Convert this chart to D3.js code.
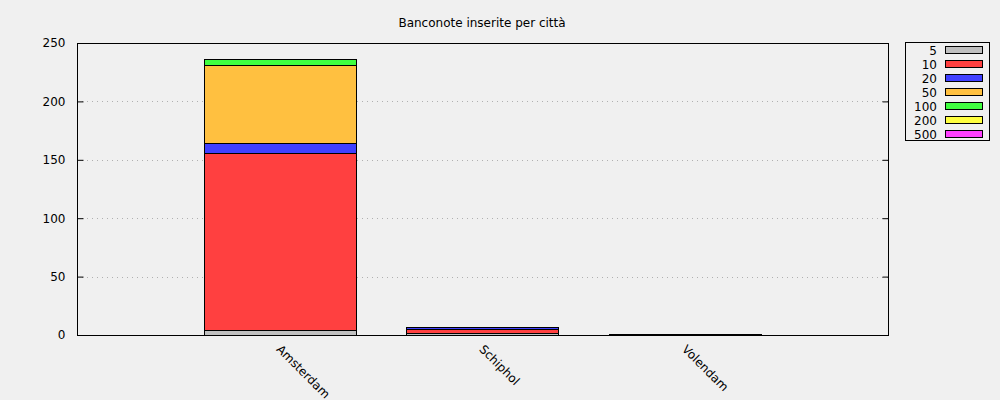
<!DOCTYPE html>
<html><head><meta charset="utf-8">
<script src="https://cdn.jsdelivr.net/npm/d3@7"></script>
<style>body{margin:0;background:#f0f0f0}svg{display:block;font-family:"DejaVu Sans",sans-serif}</style>
</head><body><svg id="c" width="1000" height="400"></svg>
<script>
const cities = ["Amsterdam", "Schiphol", "Volendam"];
const denominations = ["5", "10", "20", "50", "100", "200", "500"];
const colors = ["#c0c0c0", "#ff4040", "#4040ff", "#ffc040", "#40ff40", "#ffff40", "#ff40ff"];
const v5   = [4, 2, 1];
const v10  = [152, 3, 0];
const v20  = [8, 2, 0];
const v50  = [67, 0, 0];
const v100 = [5, 0, 0];
const v200 = [0, 0, 0];
const v500 = [0, 0, 0];
const yTicks = [0, 50, 100, 150, 200, 250];
const title = "Banconote inserite per città";

const series = [v5, v10, v20, v50, v100, v200, v500];
const table = cities.map((c, i) => {
  const o = {city: c, idx: i};
  denominations.forEach((d, j) => o[d] = series[j][i]);
  return o;
});
const stack = d3.stack().keys(denominations)(table);

const svg = d3.select("#c");
const L = 77, R = 888, T = 43, B = 335;
const x = d3.scaleLinear().domain([-1, 3]).range([L, R]);
const y = d3.scaleLinear().domain([0, 250]).range([B, T]);
const bw = (x(1) - x(0)) * 0.75;

svg.append("text").attr("x", 482).attr("y", 27).attr("text-anchor", "middle")
  .attr("font-size", 12).attr("fill", "#000").text(title);

// grid
svg.append("g").selectAll("line").data(yTicks.filter(t => t > 0 && t < 250)).join("line")
  .attr("x1", L).attr("x2", R).attr("y1", d => Math.round(y(d)) + 0.5).attr("y2", d => Math.round(y(d)) + 0.5)
  .attr("stroke", "#b0b0b0").attr("stroke-dasharray", "1,4");

// bars
stack.forEach((s, j) => {
  svg.append("g").selectAll("rect").data(s).join("rect")
    .attr("x", d => Math.round(x(d.data.idx) - bw / 2) + 0.5)
    .attr("width", Math.round(bw))
    .attr("y", d => Math.round(y(d[1])) + 0.5)
    .attr("height", d => Math.round(y(d[0])) - Math.round(y(d[1])))
    .attr("fill", colors[j])
    .attr("stroke", d => (d[1] - d[0]) > 0 ? "#000" : colors[j])
    .attr("stroke-opacity", d => (d[1] - d[0]) > 0 ? 1 : 0.5)
    .attr("stroke-width", 1);
});

// border
svg.append("rect").attr("x", L + 0.5).attr("y", T + 0.5).attr("width", R - L).attr("height", B - T)
  .attr("fill", "none").attr("stroke", "#000");

// y axis (left, ticks inward) and mirror ticks
const yAxis = d3.axisLeft(y).tickValues(yTicks).tickSize(-6).tickPadding(12).tickFormat(d3.format("d"));
const ga = svg.append("g").attr("transform", `translate(${L + 0.5},0)`).call(yAxis);
ga.select(".domain").remove();
ga.selectAll("text").attr("font-size", 12).attr("font-family", "DejaVu Sans").attr("fill", "#000");
ga.selectAll("line").attr("stroke", "#000");
const gr = svg.append("g").attr("transform", `translate(${R + 0.5},0)`)
  .call(d3.axisRight(y).tickValues(yTicks).tickSize(-6).tickFormat(""));
gr.select(".domain").remove();
gr.selectAll("line").attr("stroke", "#000");

// x labels
svg.append("g").selectAll("text").data(table).join("text")
  .attr("transform", d => `translate(${x(d.idx) + 2},${B + 9}) rotate(45)`)
  .attr("font-size", 12).attr("fill", "#000").attr("dy", "0.7em")
  .text(d => d.city);

// legend
const lg = svg.append("g");
lg.append("rect").attr("x", 905.5).attr("y", 42.5).attr("width", 84).attr("height", 98)
  .attr("fill", "none").attr("stroke", "#000");
denominations.forEach((d, j) => {
  const cy = 50 + j * 14;
  lg.append("text").attr("x", 937).attr("y", cy + 1).attr("dy", "0.36em").attr("text-anchor", "end")
    .attr("font-size", 12).attr("fill", "#000").text(d);
  lg.append("rect").attr("x", 945.5).attr("y", cy - 3.5).attr("width", 37).attr("height", 7)
    .attr("fill", colors[j]).attr("stroke", "#000");
});
</script></body></html>
